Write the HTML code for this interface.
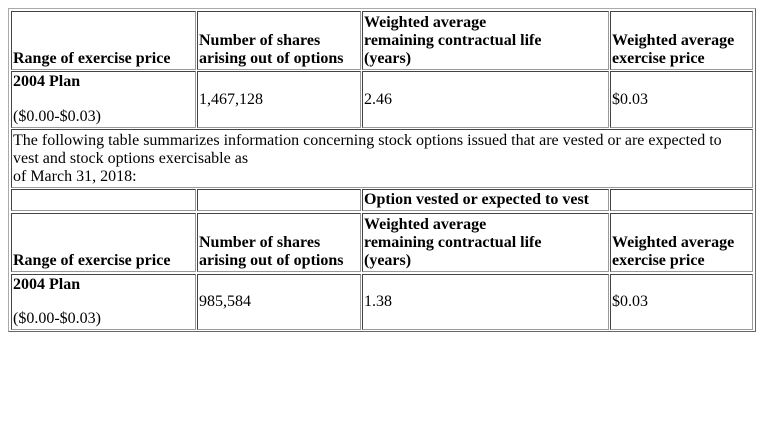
<!DOCTYPE html>
<html><head><meta charset="utf-8"><style>
body{margin:0;width:764px;height:433px;background:#fff;position:relative;font-family:"Liberation Serif",serif;font-size:16px;color:#000;overflow:hidden}
.outer{position:absolute;left:8px;top:8px;width:748px;height:324px;border:1px solid #888;box-sizing:border-box;border-color:#aaa #666 #666 #aaa}
.c{position:absolute;box-sizing:border-box;border:1px solid #444;border-color:#444 #999 #999 #444;padding:1px 1px;line-height:18px;display:flex;flex-direction:column}
.b{justify-content:flex-end;font-weight:bold}
.m{justify-content:center}
.t{justify-content:flex-start}
.sb{justify-content:space-between}
</style></head><body>
<div class="outer"></div>
<!-- row 1 -->
<div class="c b" style="left:11px;top:11px;width:185px;height:59px">Range of exercise price</div>
<div class="c b" style="left:197px;top:11px;width:164px;height:59px">Number of shares<br>arising out of options</div>
<div class="c b" style="left:362px;top:11px;width:247px;height:59px">Weighted average<br>remaining contractual life<br>(years)</div>
<div class="c b" style="left:610px;top:11px;width:143px;height:59px">Weighted average<br>exercise price</div>
<!-- row 2 -->
<div class="c sb" style="left:11px;top:71px;width:185px;height:57px"><b>2004 Plan</b><span>($0.00-$0.03)</span></div>
<div class="c m" style="left:197px;top:71px;width:164px;height:57px">1,467,128</div>
<div class="c m" style="left:362px;top:71px;width:247px;height:57px">2.46</div>
<div class="c m" style="left:610px;top:71px;width:143px;height:57px">$0.03</div>
<!-- row 3 -->
<div class="c t" style="left:11px;top:129px;width:742px;height:59px;padding-top:2px">The following table summarizes information concerning stock options issued that are vested or are expected to<br>vest and stock options exercisable as<br>of March 31, 2018:</div>
<!-- row 4 -->
<div class="c" style="left:11px;top:189px;width:185px;height:22px"></div>
<div class="c" style="left:197px;top:189px;width:164px;height:22px"></div>
<div class="c m" style="left:362px;top:189px;width:247px;height:22px;font-weight:bold">Option vested or expected to vest</div>
<div class="c" style="left:610px;top:189px;width:143px;height:22px"></div>
<!-- row 5 -->
<div class="c b" style="left:11px;top:213px;width:185px;height:59px">Range of exercise price</div>
<div class="c b" style="left:197px;top:213px;width:164px;height:59px">Number of shares<br>arising out of options</div>
<div class="c b" style="left:362px;top:213px;width:247px;height:59px">Weighted average<br>remaining contractual life<br>(years)</div>
<div class="c b" style="left:610px;top:213px;width:143px;height:59px">Weighted average<br>exercise price</div>
<!-- row 6 -->
<div class="c sb" style="left:11px;top:274px;width:185px;height:56px"><b>2004 Plan</b><span>($0.00-$0.03)</span></div>
<div class="c m" style="left:197px;top:274px;width:164px;height:56px">985,584</div>
<div class="c m" style="left:362px;top:274px;width:247px;height:56px">1.38</div>
<div class="c m" style="left:610px;top:274px;width:143px;height:56px">$0.03</div>
</body></html>
